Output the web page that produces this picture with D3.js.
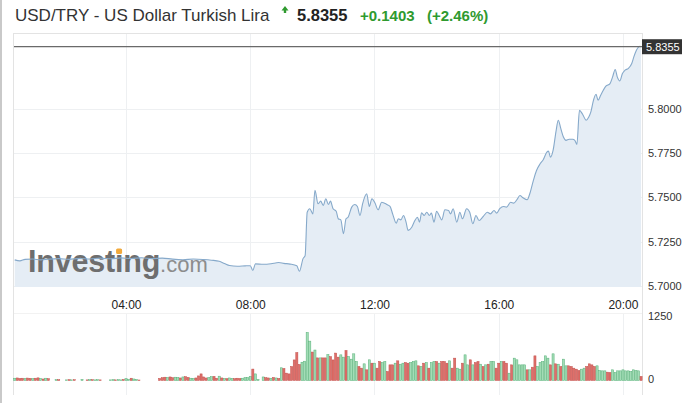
<!DOCTYPE html>
<html><head><meta charset="utf-8">
<script src="https://cdn.jsdelivr.net/npm/d3@7"></script>
<style>body{margin:0;background:#fff;} svg{display:block;font-family:Arial,"Liberation Sans",sans-serif;}</style>
</head><body><svg id="c" width="698" height="403"></svg>
<script>
// ---------- DATA ----------
const titleText = "USD/TRY - US Dollar Turkish Lira";
const lastPrice = 5.8355;
const lastPriceText = "5.8355";
const changeAbsText = "+0.1403";
const changePctText = "(+2.46%)";

const priceTimes = ["00:25","00:35","00:45","01:00","01:15","01:30","01:50","02:10","02:30","02:50","03:10","03:30","03:50","04:10","04:30","04:50","05:10","05:30","05:50","06:10","06:30","06:45","07:00","07:10","07:20","07:35","07:50","08:00","08:05","08:10","08:25","08:40","08:55","09:05","09:17","09:30","09:35","09:42","09:46","09:50","09:55","10:01","10:05","10:11","10:16","10:21","10:26","10:31","10:35","10:40","10:46","10:50","10:55","11:00","11:05","11:09","11:16","11:22","11:27","11:32","11:37","11:45","11:50","11:55","12:01","12:07","12:14","12:24","12:30","12:36","12:42","12:46","12:51","12:56","13:01","13:05","13:12","13:18","13:23","13:27","13:31","13:36","13:41","13:46","13:50","13:55","14:00","14:05","14:10","14:16","14:23","14:27","14:32","14:39","14:45","14:50","14:58","15:04","15:10","15:16","15:22","15:30","15:38","15:44","15:51","15:56","16:02","16:09","16:15","16:23","16:29","16:35","16:41","16:47","16:55","17:00","17:07","17:13","17:20","17:26","17:33","17:36","17:40","17:45","17:51","17:55","18:00","18:05","18:10","18:16","18:23","18:27","18:31","18:36","18:42","18:49","18:54","18:58","19:03","19:08","19:12","19:17","19:22","19:27","19:35","19:40","19:45","19:49","19:54","19:59","20:04","20:10","20:17","20:21","20:26","20:33","20:35"];
const priceValues = [5.7146,5.7140,5.7149,5.7151,5.7146,5.7150,5.7153,5.7149,5.7154,5.7151,5.7156,5.7152,5.7157,5.7154,5.7158,5.7153,5.7156,5.7150,5.7147,5.7151,5.7148,5.7144,5.7138,5.7126,5.7114,5.7110,5.7112,5.7113,5.7086,5.7123,5.7121,5.7124,5.7131,5.7126,5.7122,5.7112,5.7081,5.7153,5.7170,5.7416,5.7436,5.7407,5.7540,5.7464,5.7479,5.7455,5.7493,5.7460,5.7479,5.7436,5.7422,5.7379,5.7373,5.7294,5.7379,5.7388,5.7445,5.7460,5.7449,5.7398,5.7464,5.7521,5.7449,5.7493,5.7468,5.7430,5.7473,5.7460,5.7449,5.7398,5.7354,5.7379,5.7373,5.7398,5.7360,5.7313,5.7331,5.7369,5.7388,5.7360,5.7413,5.7398,5.7416,5.7398,5.7411,5.7360,5.7422,5.7398,5.7373,5.7430,5.7426,5.7407,5.7436,5.7360,5.7416,5.7379,5.7436,5.7416,5.7351,5.7398,5.7369,5.7392,5.7416,5.7407,5.7426,5.7411,5.7436,5.7449,5.7445,5.7473,5.7468,5.7487,5.7511,5.7498,5.7487,5.7521,5.7597,5.7653,5.7691,5.7714,5.7757,5.7763,5.7729,5.7767,5.7881,5.7938,5.7890,5.7843,5.7824,5.7830,5.7830,5.7824,5.7801,5.7994,5.7972,5.7938,5.7956,5.7985,5.8051,5.8085,5.8051,5.8080,5.8108,5.8131,5.8146,5.8184,5.8226,5.8184,5.8161,5.8203,5.8222,5.8231,5.8260,5.8297,5.8335,5.8358,5.8355];

// 5-minute volume bars starting 00:25
const volumeStart = "00:25";
const volumeStepMinutes = 5;
const volumeValues = [
  45,50,40,45,40,48,42,38,45,52,40,30,45,35,
  0,0,15,15,0,0,12,15,12,15, 0,0,20,0,12,15,15,12,15,12, 0,0,0,12,15,12,15,12,20,35, 25,45,30,20,10,
  0,0,0,0,0,0,0,
  40,55,65,60,70,55,65,60,50,70, 75,60,45,40,50,90,130,70,50,60, 75,80,45,85,50,40,35,50,40,35, 45,40,45,55,60,80,225,130,20,0,
  70,55,50,45,60,50,40,
  250,236,145,130,275,405,550,315,360,380, 945,775,560,600,445,445,445,445,510,470, 405,540,460,
  505,460,590,472,420,525,374,276,243,328,
  210,407,341,341,243,374,354,374,177,308,
  308,341,387,321,341,354,341,354,374,387,
  289,276,341,354,243,354,374,374,341,374,
  374,341,387,243,440,243,223,341,505,308,
  407,308,354,374,321,276,308,321,374,374,
  243,341,374,374,341,144,308,440,407,308,
  308,308,210,210,262,485,276,354,374,485,
  440,308,525,328,321,276,420,289,289,276,
  243,223,197,223,243,276,328,308,276,289,
  197,190,190,164,157,210,157,190,190,210,
  190,190,177,210,197,190,79
];
const volumeUp = [
  1,0,0,0,1,0,0,1,0,0,1,0,1,0,
  0,0,1,0,0,0,1,0,1,0, 0,0,1,0,0,1,0,1,1,0, 0,0,0,1,1,0,1,1,0,1, 1,0,1,1,0,
  0,0,0,0,0,0,0,
  0,0,0,1,0,0,1,1,0,1, 0,0,1,1,0,0,0,0,0,1, 1,0,0,1,0,1,0,1,1,0, 0,0,1,1,1,1,0,1,1,0,
  1,0,0,1,0,1,0,
  1,0,0,0,0,0,0,0,1,1, 1,1,0,1,0,1,0,0,1,0, 0,0,0,
  1,1,0,1,1,1,1,0,0,1,
  0,1,0,1,0,0,1,1,0,0,
  0,1,0,1,1,0,0,1,1,1,
  0,1,0,1,0,1,1,0,1,0,
  0,0,1,0,0,1,1,0,1,1,
  0,1,0,0,1,0,1,0,1,1,
  0,0,1,0,0,1,0,1,1,1,
  1,1,0,1,0,0,1,1,1,1,
  1,0,1,0,1,0,1,1,0,0,
  0,0,0,1,1,0,0,0,0,1,
  1,1,1,0,0,1,1,1,1,1,
  1,1,1,1,1,1,0
];

const priceTicks = [5.7000, 5.7250, 5.7500, 5.7750, 5.8000];
const volumeTicks = [0, 1250];
const timeTickLabels = ["04:00","08:00","12:00","16:00","20:00"];

// ---------- HELPERS ----------
const toMin = s => { const [h, m] = s.split(":").map(Number); return h * 60 + m; };
const fmtTime = m => String(Math.floor(m / 60)).padStart(2, "0") + ":" + String(m % 60).padStart(2, "0");

const priceData = priceTimes.map((t, i) => ({ m: toMin(t), v: priceValues[i] }));
const v0 = toMin(volumeStart);
const volData = volumeValues.map((v, i) => ({ m: v0 + i * volumeStepMinutes, v, up: volumeUp[i] === 1 }));

// ---------- LAYOUT ----------
const svg = d3.select("#c");
const plot = { left: 14, right: 642, top: 33, bottom: 287 };
const volPanel = { top: 313, bottom: 395 };

const x = d3.scaleLinear().domain([23.6, 1236.8]).range([plot.left, plot.right]);
const y = d3.scaleLinear().domain([5.70, 5.80]).range([285.6, 109.3]);
const yv = d3.scaleLinear().domain([0, 1250]).range([380.5, 317]);

svg.append("rect").attr("width", 698).attr("height", 403).attr("fill", "#fff");
svg.append("rect").attr("x", 0).attr("y", 0).attr("width", 2).attr("height", 403).attr("fill", "#c9c9c9");

// grid
const grid = svg.append("g").attr("stroke", "#eef0f2").attr("stroke-width", 1);
priceTicks.forEach(t => grid.append("line")
  .attr("x1", plot.left).attr("x2", plot.right)
  .attr("y1", Math.round(y(t)) + 0.5).attr("y2", Math.round(y(t)) + 0.5));
const tickMins = timeTickLabels.map(toMin);
tickMins.forEach(m => {
  grid.append("line").attr("x1", Math.round(x(m)) + 0.5).attr("x2", Math.round(x(m)) + 0.5)
    .attr("y1", plot.top).attr("y2", plot.bottom);
  grid.append("line").attr("x1", Math.round(x(m)) + 0.5).attr("x2", Math.round(x(m)) + 0.5)
    .attr("y1", volPanel.top).attr("y2", volPanel.bottom);
});

// area + line
const area = d3.area().x(d => x(d.m)).y0(plot.bottom).y1(d => y(d.v)).curve(d3.curveMonotoneX);
const line = d3.line().x(d => x(d.m)).y(d => y(d.v)).curve(d3.curveMonotoneX);
svg.append("path").datum(priceData).attr("d", area).attr("fill", "#e5edf5");

// frame
const frame = svg.append("g").attr("stroke", "#e3e3e3").attr("fill", "none");
frame.append("line").attr("x1", plot.left).attr("x2", plot.right).attr("y1", plot.top + 0.5).attr("y2", plot.top + 0.5);
frame.append("line").attr("x1", plot.left - 0.5).attr("x2", plot.left - 0.5).attr("y1", plot.top).attr("y2", volPanel.bottom);
frame.append("line").attr("x1", plot.right + 0.5).attr("x2", plot.right + 0.5).attr("y1", plot.top).attr("y2", volPanel.bottom);
frame.append("line").attr("x1", plot.left).attr("x2", plot.right).attr("y1", volPanel.top + 0.5).attr("y2", volPanel.top + 0.5).attr("stroke", "#f2f2f2");

// watermark
const wm = svg.append("text").attr("x", 28).attr("y", 272)
  .attr("font-size", 30.5).attr("font-weight", "bold").attr("fill", "#6e6e6e").attr("letter-spacing", -0.2);
wm.append("tspan").text("Investing");
wm.append("tspan").attr("font-size", 22).attr("font-weight", "normal").attr("fill", "#8c8c8c").attr("letter-spacing", 0).text(".com");
try {
  const ext = wm.node().getExtentOfChar(6);
  svg.append("rect").attr("x", ext.x + ext.width / 2 - 3).attr("y", 248.5).attr("width", 6).attr("height", 5.5)
    .attr("rx", 1.5).attr("fill", "#f2a93b");
} catch (e) {}

svg.append("path").datum(priceData).attr("d", line).attr("fill", "none")
  .attr("stroke", "#86a9ca").attr("stroke-width", 1.1);

// last price line
svg.append("line").attr("x1", plot.left).attr("x2", plot.right)
  .attr("y1", y(lastPrice)).attr("y2", y(lastPrice)).attr("stroke", "#6a6a6a").attr("stroke-width", 1.2);

// volume bars
const bw = 2.1;
svg.append("g").selectAll("rect").data(volData.filter(d => d.v > 0)).join("rect")
  .attr("x", d => x(d.m) - bw / 2).attr("width", bw)
  .attr("y", d => yv(d.v)).attr("height", d => yv(0) - yv(d.v))
  .attr("fill", d => d.up ? "#a3dcb6" : "#de6f6a")
  .attr("stroke", d => d.up ? "#55b077" : "#c24f4b").attr("stroke-width", 0.5);

// axes
const yAxis = d3.axisRight(y).tickValues(priceTicks).tickFormat(d3.format(".4f")).tickSize(0).tickPadding(0);
const gy = svg.append("g").attr("transform", "translate(648,0)").call(yAxis);
gy.select(".domain").remove();
gy.selectAll("text").attr("font-size", 11).attr("fill", "#333").attr("font-family", "Arial,'Liberation Sans',sans-serif");

const vAxis = d3.axisRight(yv).tickValues(volumeTicks).tickFormat(d3.format("d")).tickSize(0).tickPadding(0);
const gv = svg.append("g").attr("transform", "translate(648,-1.5)").call(vAxis);
gv.select(".domain").remove();
gv.selectAll("text").attr("font-size", 11).attr("fill", "#333").attr("font-family", "Arial,'Liberation Sans',sans-serif");

const xAxis = d3.axisBottom(x).tickValues(tickMins).tickFormat(fmtTime).tickSize(0).tickPadding(4);
const gx = svg.append("g").attr("transform", "translate(0,296)").call(xAxis);
gx.select(".domain").remove();
gx.selectAll("text").attr("font-size", 12).attr("fill", "#222").attr("font-family", "Arial,'Liberation Sans',sans-serif");

// price tag
svg.append("rect").attr("x", 642).attr("y", y(lastPrice) - 7.5).attr("width", 40).attr("height", 15).attr("fill", "#333");
svg.append("text").attr("x", 646).attr("y", y(lastPrice) + 4).attr("font-size", 11).attr("fill", "#fff").text(lastPriceText);

// title
svg.append("text").attr("x", 15).attr("y", 21).attr("font-size", 17).attr("fill", "#333").text(titleText);
svg.append("path").attr("d", "M281.5,10.5 L285,6 L288.5,10.5 L286.2,10.5 L286.2,13 L283.8,13 L283.8,10.5 Z").attr("fill", "#2f9a2f");
svg.append("text").attr("x", 297).attr("y", 21).attr("font-size", 16.5).attr("font-weight", "bold").attr("fill", "#222").text(lastPriceText);
svg.append("text").attr("x", 360).attr("y", 21).attr("font-size", 15).attr("font-weight", "bold").attr("fill", "#2f9a2f").text(changeAbsText);
svg.append("text").attr("x", 427).attr("y", 21).attr("font-size", 15).attr("font-weight", "bold").attr("fill", "#2f9a2f").text(changePctText);
</script></body></html>
